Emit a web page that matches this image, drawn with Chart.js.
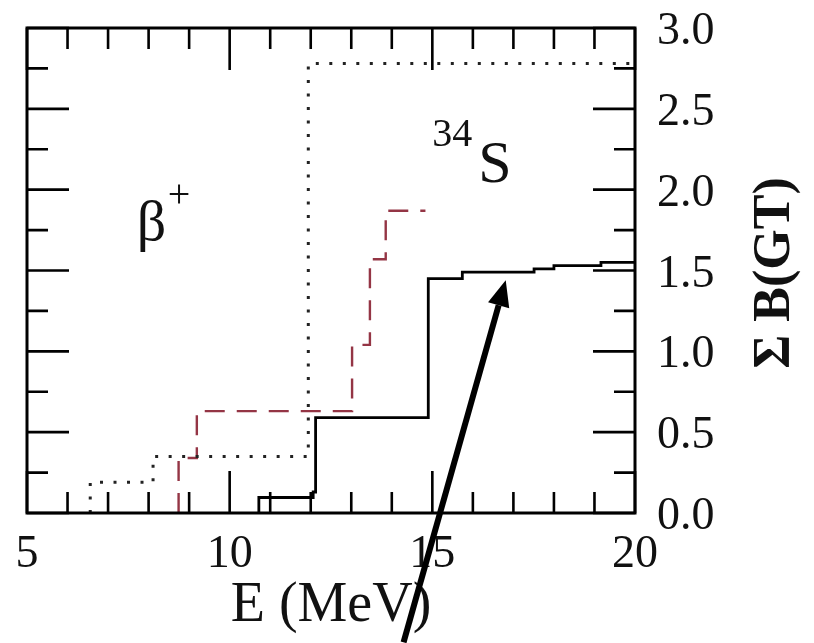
<!DOCTYPE html>
<html>
<head>
<meta charset="utf-8">
<script src="https://cdn.jsdelivr.net/npm/chart.js@4.4.0/dist/chart.umd.min.js"></script>
<style>
  html, body { margin: 0; padding: 0; background: #fff; }
  #wrap { width: 814px; height: 643px; }
</style>
</head>
<body>
<div id="wrap"><canvas id="gtChart" width="814" height="643"></canvas></div>
<script>
// Running sum of GT strength against excitation energy.
// Each curve: the energies (MeV) where a level switches on, and the summed B(GT) from there on.
const solidEdges = [10.72, 12.06, 12.12, 14.90, 15.74, 17.51, 18.00, 19.16];
const solidSums  = [0.096, 0.13, 0.59, 1.45, 1.49, 1.51, 1.53, 1.55];
const solidEnd   = 20;

const dashedEdges = [8.74, 9.19, 13.02, 13.46, 13.85];
const dashedSums  = [0.34, 0.63, 1.04, 1.57, 1.87];
const dashedEnd   = 14.83;

const dottedEdges = [6.56, 8.11, 11.94];
const dottedSums  = [0.19, 0.35, 2.78];
const dottedEnd   = 20;

const xTicks = [5, 10, 15, 20];
const yTicks = [0, 0.5, 1.0, 1.5, 2.0, 2.5, 3.0];

// arrow pointing at the solid curve, in axis units
const arrowTail = { x: 14.29, y: -0.80 };
const arrowTip  = { x: 16.81, y: 1.44 };

// turn (edge, running sum) pairs into the corner points of a staircase
function staircase(edges, sums, end) {
    const pts = [];
    let level = 0;
    edges.forEach(function(e, i) {
        pts.push({ x: e, y: level });
        level = sums[i];
        pts.push({ x: e, y: level });
    });
    pts.push({ x: end, y: level });
    return pts;
}

const serif = '"Liberation Serif", "DejaVu Serif", serif';

// frame plus inward ticks on all four sides
const frameTicks = {
    id: 'frameTicks',
    afterDatasetsDraw(chart) {
        const ctx = chart.ctx;
        const a = chart.chartArea;
        const xs = chart.scales.x, ys = chart.scales.y;
        ctx.save();
        ctx.strokeStyle = '#000';
        ctx.lineWidth = 2.6;
        ctx.beginPath();
        for (let e = 5; e <= 20; e++) {
            const px = xs.getPixelForValue(e);
            const len = e % 5 === 0 ? 42 : 21;
            ctx.moveTo(px, a.bottom); ctx.lineTo(px, a.bottom - len);
            ctx.moveTo(px, a.top);    ctx.lineTo(px, a.top + len);
        }
        for (let k = 0; k <= 12; k++) {
            const py = ys.getPixelForValue(k * 0.25);
            const len = k % 2 === 0 ? 42 : 21;
            ctx.moveTo(a.left, py);  ctx.lineTo(a.left + len, py);
            ctx.moveTo(a.right, py); ctx.lineTo(a.right - len, py);
        }
        ctx.stroke();
        ctx.lineWidth = 3;
        ctx.strokeRect(a.left, a.top, a.right - a.left, a.bottom - a.top);
        ctx.restore();
    },
    afterDraw(chart) {
        const ctx = chart.ctx;
        const xs = chart.scales.x, ys = chart.scales.y;
        ctx.save();
        ctx.fillStyle = '#111';

        // beta+ label
        const bx = xs.getPixelForValue(7.71), by = ys.getPixelForValue(1.69);
        ctx.font = '58px ' + serif;
        ctx.textAlign = 'left';
        ctx.textBaseline = 'alphabetic';
        ctx.fillText('β', bx, by);
        ctx.font = '40px ' + serif;
        ctx.fillText('+', bx + 31, by - 33);

        // nucleus label
        const sx = xs.getPixelForValue(15.0), sy = ys.getPixelForValue(2.05);
        ctx.font = '40px ' + serif;
        ctx.fillText('34', sx, sy - 36);
        ctx.font = '60px ' + serif;
        ctx.fillText('S', sx + 46, sy);

        // y axis title, reading upwards
        ctx.save();
        ctx.translate(776, 273);
        ctx.rotate(-Math.PI / 2);
        ctx.font = 'bold 52px ' + serif;
        ctx.textAlign = 'center';
        ctx.textBaseline = 'middle';
        ctx.fillText('Σ B(GT)', 0, 0);
        ctx.restore();

        // arrow
        const x0 = xs.getPixelForValue(arrowTail.x), y0 = ys.getPixelForValue(arrowTail.y);
        const x1 = xs.getPixelForValue(arrowTip.x),  y1 = ys.getPixelForValue(arrowTip.y);
        const ang = Math.atan2(y1 - y0, x1 - x0);
        const head = 26, half = 11;
        const hx = x1 - head * Math.cos(ang), hy = y1 - head * Math.sin(ang);
        ctx.strokeStyle = '#000';
        ctx.fillStyle = '#000';
        ctx.lineWidth = 6;
        ctx.beginPath();
        ctx.moveTo(x0, y0);
        ctx.lineTo(hx, hy);
        ctx.stroke();
        ctx.beginPath();
        ctx.moveTo(x1, y1);
        ctx.lineTo(hx + half * Math.sin(ang), hy - half * Math.cos(ang));
        ctx.lineTo(hx - half * Math.sin(ang), hy + half * Math.cos(ang));
        ctx.closePath();
        ctx.fill();
        ctx.restore();
    }
};

const ctx = document.getElementById('gtChart').getContext('2d');
const gtChart = new Chart(ctx, {
    type: 'line',
    data: {
        datasets: [
            {
                label: 'dotted',
                data: staircase(dottedEdges, dottedSums, dottedEnd),
                borderColor: '#222',
                borderWidth: 3,
                borderDash: [3, 10.5],
                pointRadius: 0,
                fill: false
            },
            {
                label: 'dashed',
                data: staircase(dashedEdges, dashedSums, dashedEnd),
                borderColor: '#943545',
                borderWidth: 2.4,
                borderDash: [20, 12],
                pointRadius: 0,
                fill: false
            },
            {
                label: 'solid',
                data: staircase(solidEdges, solidSums, solidEnd),
                borderColor: '#000',
                borderWidth: 2.8,
                pointRadius: 0,
                fill: false
            }
        ]
    },
    options: {
        responsive: false,
        animation: false,
        devicePixelRatio: 1,
        layout: { padding: { left: 27, top: 28, right: 0, bottom: 0 } },
        plugins: {
            legend: { display: false },
            tooltip: { enabled: false }
        },
        scales: {
            x: {
                type: 'linear',
                position: 'bottom',
                min: 5,
                max: 20,
                afterBuildTicks: function(scale) { scale.ticks = xTicks.map(v => ({ value: v })); },
                afterFit: function(scale) {
                    scale.height = 130;
                    scale.paddingLeft = 0;
                    scale.paddingRight = 0;
                },
                grid: { display: false, drawTicks: false },
                border: { display: false },
                ticks: {
                    font: { family: serif, size: 46 },
                    color: '#111',
                    padding: 14,
                    maxRotation: 0,
                    autoSkip: false
                },
                title: {
                    display: true,
                    text: 'E (MeV)',
                    font: { family: serif, size: 56 },
                    color: '#111',
                    padding: { top: 0, bottom: 3 }
                }
            },
            y: {
                type: 'linear',
                position: 'right',
                min: 0,
                max: 3,
                afterBuildTicks: function(scale) { scale.ticks = yTicks.map(v => ({ value: v })); },
                afterFit: function(scale) {
                    scale.width = 179;
                    scale.paddingTop = 0;
                    scale.paddingBottom = 0;
                },
                grid: { display: false, drawTicks: false },
                border: { display: false },
                ticks: {
                    font: { family: serif, size: 46 },
                    color: '#111',
                    padding: 22,
                    labelOffset: 4,
                    callback: v => v.toFixed(1)
                }
            }
        }
    },
    plugins: [frameTicks]
});
</script>
</body>
</html>
